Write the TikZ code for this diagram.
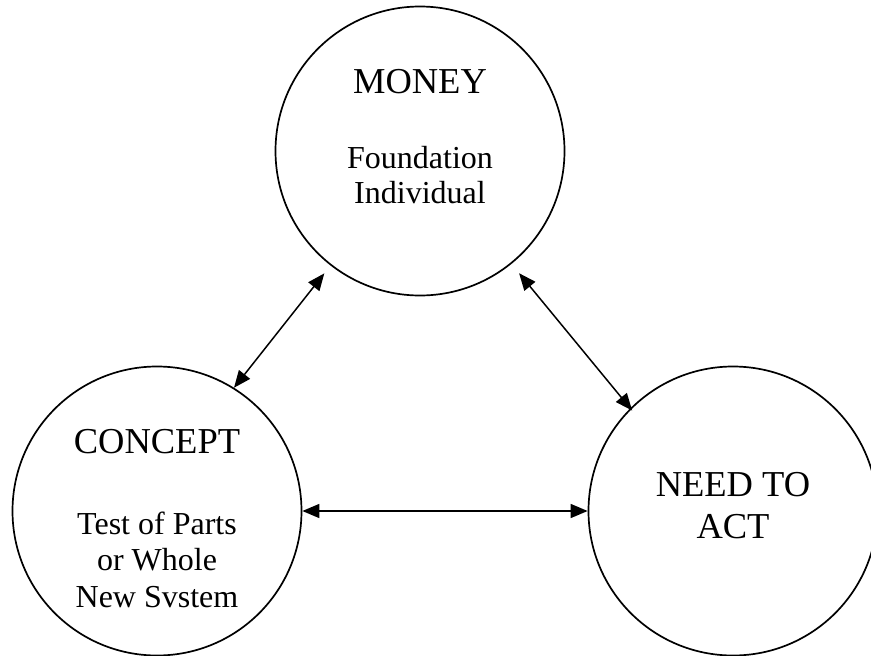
\documentclass[tikz,border=0pt]{standalone}
\usepackage{fontspec}
\setmainfont{Liberation Serif}
\usetikzlibrary{arrows.meta}
\begin{document}
\begin{tikzpicture}[x=1pt,y=-1pt,
  bubble/.style={circle,draw,line width=1.7pt,minimum size=289pt,inner sep=0pt},
  title/.style={anchor=base,font=\fontsize{36.5}{40}\selectfont,inner sep=0pt},
  sub/.style={anchor=base,font=\fontsize{32}{36}\selectfont,inner sep=0pt},
  link/.style={line width=1.5pt,{Triangle[length=17pt,width=14pt]}-{Triangle[length=17pt,width=14pt]}}]
\useasboundingbox (0,0) rectangle (871,656);
\node[bubble] (money) at (420,151) {};
\node[bubble] (concept) at (157,511) {};
\node[bubble] (need) at (733,511) {};
\node[title] (tmoney) at (420,93) {MONEY};
\node[sub] (s1) at (420,168) {Foundation};
\node[sub] (s2) at (420,203) {Individual};
\node[title] (tconcept) at (157,453) {CONCEPT};
\node[sub] (c1) at (157,534) {Test of Parts};
\node[sub] (c2) at (157,570.5) {or Whole};
\node[sub] (c3) at (157,607) {New Svstem};
\node[title] (tneed1) at (733,496) {NEED TO};
\node[title] (tneed2) at (733,538) {ACT};
\draw[link,shorten <=10pt] (money.232) -- (concept.58);
\draw[link,shorten <=12pt,shorten >=-3pt] (money.309) -- (need.135);
\draw[link] (concept.east) -- (need.west);
\end{tikzpicture}
\end{document}
